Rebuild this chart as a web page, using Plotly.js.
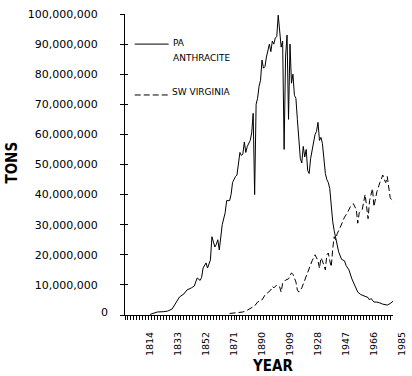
<!DOCTYPE html>
<html><head><meta charset="utf-8">
<script src="https://cdn.plot.ly/plotly-3.0.1.min.js"></script>
<style>html,body{margin:0;padding:0;background:#fff}#chart{width:412px;height:376px}</style>
</head><body><div id="chart"></div>
<script>
// ---- data ----
const paYears = [1814,1816,1819,1823,1826,1829,1831,1834,1837,1839,1842,1844,1846,1848,1849,1850,1852,1853,1855,1856,1858,1859,1860,1861,1863,1865,1866,1868,1869,1870,1872,1873,1875,1876,1877,1878,1879,1880,1882,1883,1884,1885,1886,1887,1888,1889,1890,1891,1892,1893,1895,1896,1897,1898,1899,1900,1901,1902,1903,1904,1905,1906,1907,1908,1909,1910,1911,1912,1913,1914,1915,1916,1917,1918,1919,1920,1921,1922,1923,1924,1925,1926,1927,1928,1929,1930,1931,1932,1933,1934,1935,1936,1937,1938,1939,1940,1941,1942,1944,1946,1947,1948,1949,1951,1952,1954,1955,1957,1959,1962,1963,1964,1966,1968,1970,1972,1975,1977,1979];
const paMillionTons = [0.2,0.5,1.0,1.1,1.3,2.0,3.6,6.0,7.0,8.3,9.0,9.6,12.3,11.5,12.5,15.6,17.3,15.6,18.3,26,22.6,23.5,25,21.6,30,34,38,38,40,44,46,46.5,54,53,53.5,57.5,54,56,58,60.5,67,40,70,72,76,78,84.7,82,82.5,85.7,90,87.5,91,90,92,92.5,99.6,93,89,91,55,86,93,65,90,77,80,73,72,65,57,52,50.5,56,52.5,55,48,47,52,55,57,60,61,64,58,59,57,52.5,47,45,44,42,36,31,28,26,23,21,18.5,18,16.5,15.5,15,12,11,9,7.6,6.8,6.3,5.8,5,5.5,4.3,4.3,4,3.6,3.3,3.8,4.6];
const vaYears = [1868,1872,1877,1880,1883,1885,1887,1889,1890,1892,1894,1896,1897,1898,1900,1902,1903,1904,1906,1908,1910,1911,1912,1913,1914,1915,1917,1919,1921,1923,1924,1926,1927,1928,1929,1930,1931,1932,1933,1934,1935,1936,1937,1938,1939,1940,1941,1943,1945,1946,1948,1950,1952,1954,1955,1956,1958,1960,1961,1962,1963,1965,1966,1968,1970,1972,1973,1974,1975,1976,1977,1979];
const vaMillionTons = [0.5,0.7,1.0,1.6,2.6,3.0,4.3,4.6,5.0,6.6,7.5,8.3,9.5,9.0,10.0,9.3,7.6,10.6,11.6,12,14,13.5,12.3,11,8.3,7.6,9,11.6,14,17,18,20,19,18,15.5,19,18,16,15,20,20.6,18,16,22,26,25,27,29,31.6,32.5,34,36,37,35,30.5,34,35,40,36,32,38,42,36,41,44,46.5,45,44,46,43,39,37.5];
const seriesNames = ['PA', 'ANTHRACITE', 'SW VIRGINIA'];
const yTickValues = [0,10000000,20000000,30000000,40000000,50000000,60000000,70000000,80000000,90000000,100000000];
const xTickYears = [1814,1833,1852,1871,1890,1909,1928,1947,1966,1985];
const xAxisTitle = 'YEAR';
const yAxisTitle = 'TONS';

// ---- helpers ----
const toTons = a => a.map(v => v * 1e6);
const fmt = v => v.toLocaleString('en-US');
const X_MIN = 1797.0, X_MAX = 1985.7, AXIS_END = 1978.9;
const FONT = 'DejaVu Sans, Verdana, sans-serif';
const TITLE_FONT = 'Liberation Sans Narrow, DejaVu Sans Condensed, Liberation Sans, sans-serif';
const DASH = '6px,3px';

const traces = [
  {x: paYears, y: toTons(paMillionTons), type: 'scatter', mode: 'lines',
   line: {color: '#000', width: 1}, name: seriesNames.slice(0,2).join(' '), hoverinfo: 'skip'},
  {x: vaYears, y: toTons(vaMillionTons), type: 'scatter', mode: 'lines',
   line: {color: '#000', width: 1, dash: DASH}, name: seriesNames[2], hoverinfo: 'skip'},
  {x: [], y: [], xaxis: 'x2', yaxis: 'y', type: 'scatter', mode: 'lines', hoverinfo: 'skip'},
  {x: [], y: [], xaxis: 'x', yaxis: 'y2', type: 'scatter', mode: 'lines', hoverinfo: 'skip'}
];

const layout = {
  width: 412, height: 376,
  margin: {l: 125, r: 9, t: 14, b: 61},
  paper_bgcolor: '#fff', plot_bgcolor: 'rgba(0,0,0,0)',
  showlegend: false,
  font: {family: FONT, color: '#000', size: 11},
  xaxis: {
    range: [X_MIN, X_MAX], showline: false, zeroline: false, showgrid: false,
    ticks: '', tickmode: 'array', tickvals: xTickYears, ticktext: xTickYears.map(String),
    tickangle: -90, tickfont: {family: FONT, size: 9.5, color: '#000'},
    ticklabelstandoff: 14
  },
  xaxis2: {
    anchor: 'y', domain: [0, (AXIS_END - X_MIN) / (X_MAX - X_MIN)],
    range: [X_MIN, AXIS_END], showline: true, linecolor: '#000', linewidth: 1,
    ticks: 'outside', ticklen: 4, tickwidth: 1, tickcolor: '#000',
    tickmode: 'linear', tick0: X_MIN, dtick: 2, showticklabels: false,
    showgrid: false, zeroline: false
  },
  yaxis: {
    range: [0, 1e8], showline: true, linecolor: '#000', linewidth: 1,
    zeroline: false, showgrid: false,
    ticks: 'outside', ticklen: 4, tickwidth: 1, tickcolor: '#000',
    tickmode: 'array', tickvals: yTickValues,
    ticktext: yTickValues.map(v => v === 0 ? '' : fmt(v)),
    tickfont: {family: FONT, size: 11, color: '#000'},
    ticklabelstandoff: 20
  },
  yaxis2: {
    overlaying: 'y', anchor: 'x', side: 'left', range: [0, 1e8],
    showline: false, zeroline: false, showgrid: false,
    ticks: 'inside', ticklen: 3, tickwidth: 1, tickcolor: '#000',
    tickmode: 'array', tickvals: yTickValues, showticklabels: false
  },
  shapes: [
    {type: 'line', xref: 'paper', yref: 'paper', x0: 0.035, x1: 0.157, y0: 0.900, y1: 0.900,
     line: {color: '#000', width: 1}},
    {type: 'line', xref: 'paper', yref: 'paper', x0: 0.035, x1: 0.157, y0: 0.731, y1: 0.731,
     line: {color: '#000', width: 1, dash: DASH}}
  ],
  annotations: [
    {text: seriesNames[0], xref: 'paper', yref: 'paper', x: 0.165, y: 0.904, xanchor: 'left', yanchor: 'middle',
     showarrow: false, font: {family: FONT, size: 9, color: '#000'}},
    {text: seriesNames[1], xref: 'paper', yref: 'paper', x: 0.165, y: 0.854, xanchor: 'left', yanchor: 'middle',
     showarrow: false, font: {family: FONT, size: 9, color: '#000'}},
    {text: seriesNames[2], xref: 'paper', yref: 'paper', x: 0.162, y: 0.741, xanchor: 'left', yanchor: 'middle',
     showarrow: false, font: {family: FONT, size: 9, color: '#000'}},
    {text: '0', xref: 'paper', yref: 'y', x: -0.054, y: 0, xanchor: 'right', yanchor: 'middle', yshift: 3,
     showarrow: false, font: {family: FONT, size: 11, color: '#000'}},
    {text: '<b>' + yAxisTitle + '</b>', xref: 'paper', yref: 'paper', x: -0.408, y: 0.505, textangle: -90,
     xanchor: 'center', yanchor: 'middle', showarrow: false, font: {family: TITLE_FONT, size: 15, color: '#000'}},
    {text: '<b>' + xAxisTitle + '</b>', xref: 'paper', yref: 'paper', x: 0.529, y: -0.170,
     xanchor: 'center', yanchor: 'middle', showarrow: false, font: {family: TITLE_FONT, size: 15, color: '#000'}}
  ]
};

Plotly.newPlot('chart', traces, layout, {staticPlot: true, displayModeBar: false});
</script>
</body></html>
